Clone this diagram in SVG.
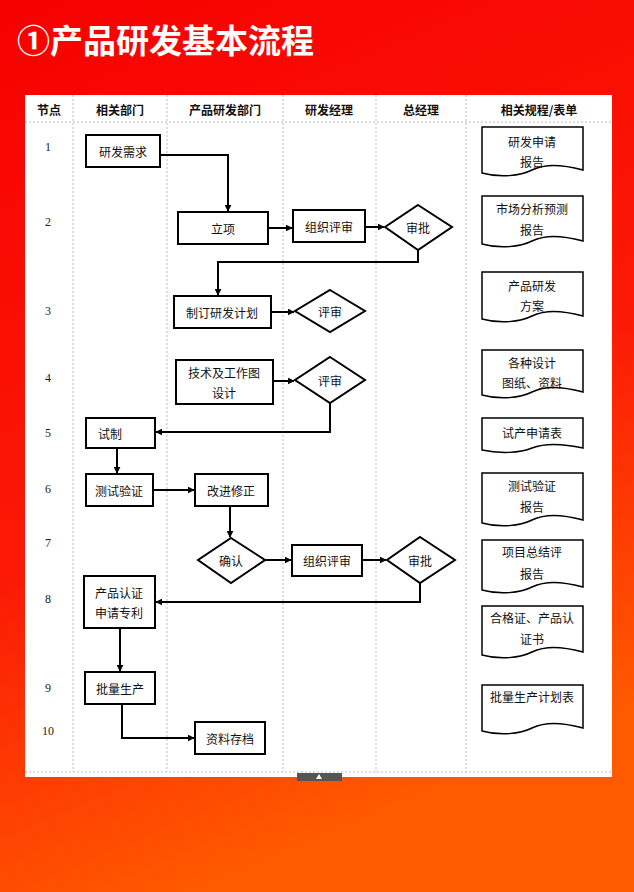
<svg xmlns="http://www.w3.org/2000/svg" width="634" height="892" viewBox="0 0 634 892">
<defs>
<linearGradient id="bg" x1="0" y1="0" x2="0.3" y2="1">
<stop offset="0" stop-color="#f70000"/><stop offset="0.6" stop-color="#fb1a05"/><stop offset="1" stop-color="#ff5a00"/>
</linearGradient>
<marker id="ar" viewBox="0 0 10 10" refX="9" refY="5" markerWidth="7" markerHeight="7" orient="auto" markerUnits="userSpaceOnUse"><path d="M0,0 L10,5 L0,10 z" fill="#000"/></marker>
<style>
.t{font-family:"Noto Sans CJK SC","Liberation Sans",sans-serif;font-size:12px;fill:#111;text-anchor:middle;dominant-baseline:central}
.h{font-weight:bold;font-size:12px}
.n{font-family:"Liberation Serif",serif;font-size:12px;fill:#222;text-anchor:middle;dominant-baseline:central}
.b{fill:#fff;stroke:#000;stroke-width:2}
.d{fill:#fff;stroke:#000;stroke-width:1.5}
.g{stroke:#bbb;stroke-width:1;stroke-dasharray:2,2;fill:none}
.c{fill:none;stroke:#000;stroke-width:2;marker-end:url(#ar)}
</style>
</defs>
<rect width="634" height="892" fill="url(#bg)"/>
<text x="17" y="53" font-family="Noto Sans CJK SC,sans-serif" font-size="33" font-weight="bold" fill="#fff">①产品研发基本流程</text>
<rect x="25" y="95" width="587" height="682" fill="#fff"/>
<g id="grid">
<line class="g" x1="25" y1="122" x2="612" y2="122"/>
<line class="g" x1="25" y1="772" x2="612" y2="772"/>
<line class="g" x1="73" y1="95" x2="73" y2="772"/>
<line class="g" x1="167" y1="95" x2="167" y2="772"/>
<line class="g" x1="283" y1="95" x2="283" y2="772"/>
<line class="g" x1="376" y1="95" x2="376" y2="772"/>
<line class="g" x1="466" y1="95" x2="466" y2="772"/>
</g>
<g id="header">
<text class="t h" x="49" y="109">节点</text>
<text class="t h" x="120" y="109">相关部门</text>
<text class="t h" x="225" y="109">产品研发部门</text>
<text class="t h" x="329" y="109">研发经理</text>
<text class="t h" x="421" y="109">总经理</text>
<text class="t h" x="539" y="109">相关规程/表单</text>
</g>
<g id="numbers">
<text class="n" x="48" y="147">1</text><text class="n" x="48" y="222">2</text><text class="n" x="48" y="311">3</text><text class="n" x="48" y="378">4</text><text class="n" x="48" y="433">5</text><text class="n" x="48" y="489">6</text><text class="n" x="48" y="543">7</text><text class="n" x="48" y="599">8</text><text class="n" x="48" y="688">9</text><text class="n" x="48" y="731">10</text>
</g>
<g id="connectors">
<path class="c" d="M160,155 H228 V211"/>
<path class="c" d="M268,228 H292"/>
<path class="c" d="M365,227 H384"/>
<path class="c" d="M418,250 V262 H218 V295"/>
<path class="c" d="M271,312 H294"/>
<path class="c" d="M273,381 H294"/>
<path class="c" d="M330,403 V432 H156"/>
<path class="c" d="M117,448 V473"/>
<path class="c" d="M153,490 H194"/>
<path class="c" d="M230,506 V537"/>
<path class="c" d="M265,560 H291"/>
<path class="c" d="M362,560 H386"/>
<path class="c" d="M420,583 V602 H156"/>
<path class="c" d="M120,628 V671"/>
<path class="c" d="M122,704 V738 H194"/>
</g>
<g id="n1"><rect class="b" x="86" y="135" width="74" height="32"/><text class="t" x="123" y="151">研发需求</text></g>
<g id="n2"><rect class="b" x="178" y="212" width="90" height="32"/><text class="t" x="223" y="228">立项</text></g>
<g id="n3"><rect class="b" x="293" y="210" width="72" height="32"/><text class="t" x="329" y="226">组织评审</text></g>
<g id="n4"><polygon class="b" points="418,205 452,227 418,250 385,227"/><text class="t" x="418" y="227">审批</text></g>
<g id="n5"><rect class="b" x="174" y="296" width="97" height="32"/><text class="t" x="222" y="312">制订研发计划</text></g>
<g id="n6"><polygon class="b" points="330,290 365,311 330,332 295,311"/><text class="t" x="330" y="311">评审</text></g>
<g id="n7"><rect class="b" x="176" y="360" width="97" height="44"/><text class="t" x="224" y="372">技术及工作图</text><text class="t" x="224" y="392">设计</text></g>
<g id="n8"><polygon class="b" points="330,357 365,380 330,403 295,380"/><text class="t" x="330" y="380">评审</text></g>
<g id="n9"><rect class="b" x="86" y="418" width="69" height="30"/><text class="t" x="110" y="433">试制</text></g>
<g id="n10"><rect class="b" x="86" y="474" width="67" height="32"/><text class="t" x="119" y="490">测试验证</text></g>
<g id="n11"><rect class="b" x="195" y="474" width="73" height="32"/><text class="t" x="231" y="490">改进修正</text></g>
<g id="n12"><polygon class="b" points="231,538 265,560 231,583 198,560"/><text class="t" x="231" y="560">确认</text></g>
<g id="n13"><rect class="b" x="292" y="545" width="70" height="31"/><text class="t" x="327" y="560">组织评审</text></g>
<g id="n14"><polygon class="b" points="420,537 455,560 420,583 387,560"/><text class="t" x="420" y="560">审批</text></g>
<g id="n15"><rect class="b" x="84" y="576" width="71" height="52"/><text class="t" x="119" y="592">产品认证</text><text class="t" x="119" y="612">申请专利</text></g>
<g id="n16"><rect class="b" x="85" y="672" width="70" height="32"/><text class="t" x="120" y="688">批量生产</text></g>
<g id="n17"><rect class="b" x="195" y="722" width="70" height="32"/><text class="t" x="230" y="738">资料存档</text></g>
<g id="docs">
<g id="d1"><path class="d" d="M482,127 H583 V170 C560,164 545,164 532,170 C520,176 500,178 482,173 Z"/><text class="t" x="532" y="141">研发申请</text><text class="t" x="532" y="161">报告</text></g>
<g id="d2"><path class="d" d="M482,196 H583 V241 C560,235 545,235 532,241 C520,247 500,249 482,244 Z"/><text class="t" x="532" y="208">市场分析预测</text><text class="t" x="532" y="229">报告</text></g>
<g id="d3"><path class="d" d="M482,272 H583 V316 C560,310 545,310 532,316 C520,322 500,324 482,319 Z"/><text class="t" x="532" y="285">产品研发</text><text class="t" x="532" y="305">方案</text></g>
<g id="d4"><path class="d" d="M482,350 H583 V392 C560,386 545,386 532,392 C520,398 500,400 482,395 Z"/><text class="t" x="532" y="362">各种设计</text><text class="t" x="532" y="382">图纸、资料</text></g>
<g id="d5"><path class="d" d="M482,418 H583 V448 C560,443 545,443 532,448 C520,453 500,454 482,450 Z"/><text class="t" x="532" y="432">试产申请表</text></g>
<g id="d6"><path class="d" d="M482,473 H583 V520 C560,514 545,514 532,520 C520,526 500,528 482,523 Z"/><text class="t" x="532" y="485">测试验证</text><text class="t" x="532" y="506">报告</text></g>
<g id="d7"><path class="d" d="M482,540 H583 V587 C560,581 545,581 532,587 C520,593 500,595 482,590 Z"/><text class="t" x="532" y="551">项目总结评</text><text class="t" x="532" y="573">报告</text></g>
<g id="d8"><path class="d" d="M482,606 H583 V652 C560,646 545,646 532,652 C520,658 500,660 482,655 Z"/><text class="t" x="532" y="617">合格证、产品认</text><text class="t" x="532" y="638">证书</text></g>
<g id="d9"><path class="d" d="M482,685 H583 V728 C560,722 545,722 532,728 C520,734 500,736 482,731 Z"/><text class="t" x="532" y="696">批量生产计划表</text></g>
</g>
<rect x="297" y="773" width="45" height="8" fill="#555"/>
<path d="M316,779 L319,774 L322,779 Z" fill="#fff"/>
</svg>
